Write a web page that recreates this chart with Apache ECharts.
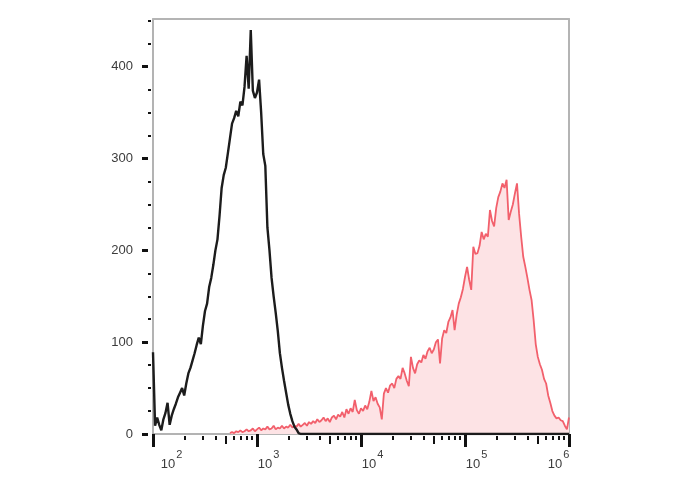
<!DOCTYPE html>
<html><head><meta charset="utf-8">
<script src="https://cdn.jsdelivr.net/npm/echarts@6/dist/echarts.min.js"></script>
<style>html,body{margin:0;padding:0;background:#fff}#c{width:688px;height:490px}</style>
</head><body><div id="c"></div>
<script>
// channel bins on a log10 scale: bin i sits at log10 = binStart + i*binStep
const binStart = 2.0;
const binStep = 0.02;

// unstained / control (black outline)
const blackCounts = [
  89,9,18,10,4,16,23,34,10,20,
  27,33,40,45,50,42,55,66,72,80,
  88,97,105,98,118,134,142,160,170,184,
  200,212,238,268,282,290,306,322,338,344,
  352,346,362,358,378,412,376,440,374,366,
  372,386,350,305,292,225,200,170,150,132,
  112,88,72,58,45,32,22,14,8,5,
  1,
  0,0,0,0,0,0,0,0,0,0, 0,0,0,0,0,0,0,0,0,0,
  0,0,0,0,0,0,0,0,0,0, 0,0,0,0,0,0,0,0,0,0,
  0,0,0,0,0,0,0,0,0,0, 0,0,0,0,0,0,0,0,0,0,
  0,0,0,0,0,0,0,0,0,0, 0,0,0,0,0,0,0,0,0,0,
  0,0,0,0,0,0,0,0,0,0, 0,0,0,0,0,0,0,0,0,0,
  0,0,0,0,0,0,0,0,0,0, 0,0,0,0,0,0,0,0,0,0,
  0,0,0,0,0,0,0,0,0,0
];

// stained sample (red, filled); null = no events drawn in that bin
const redCounts = [
  null,null,null,null,null,null,null,null,null,null,
  null,null,null,null,null,null,null,null,null,null,
  null,null,null,null,null,null,null,null,null,null,
  null,null,null,null,null,null,null,
  1,2,1,3,2,4,2,3,5,3,
  4,6,3,5,7,4,6,5,8,5,
  6,9,5,7,6,9,6,8,7,10,
  7,9,8,11,8,10,12,9,13,11,
  14,12,16,13,15,18,14,17,13,18,
  20,16,21,19,24,18,27,22,28,24,
  37,26,22,28,25,31,27,35,47,36,
  40,33,29,16,44,50,45,53,55,50,
  60,63,60,72,66,58,52,84,72,66,
  76,80,78,86,82,90,94,88,92,100,
  103,77,104,113,110,122,127,135,113,130,
  142,149,158,171,182,168,157,204,196,197,
  205,220,212,218,215,244,232,226,246,258,
  264,273,268,277,233,242,250,262,273,240,
  215,193,182,170,157,146,124,98,84,76,
  70,60,55,42,34,25,20,17,18,15,
  14,9,5,18
];

const xDecades = [2, 3, 4, 5, 6];
const xMinorMultipliers = [2, 3, 4, 6, 7, 8, 9];
const xMidMultiplier = 5;
const yMajorTicks = [0, 100, 200, 300, 400];
const yMinorTicks = [25, 50, 75, 125, 150, 175, 225, 250, 275, 325, 350, 375, 425, 450];
const yMax = 452;

const toPairs = arr => arr.map((v, i) => [binStart + i * binStep, v]);
const minorX = [], midX = [];
xDecades.slice(0, -1).forEach(d => {
  xMinorMultipliers.forEach(k => minorX.push(d + Math.log10(k)));
  midX.push(d + Math.log10(xMidMultiplier));
});

const chart = echarts.init(document.getElementById('c'), null, {renderer: 'canvas'});
const labelColor = '#3c3c3c';
const frameColor = '#b4b4b4';
const axisGray = '#9a9a9a';
const fam = 'Liberation Sans, Arial, sans-serif';

const baseX = {type: 'value', min: 2, max: 6, splitLine: {show: false}};
const baseY = {type: 'value', min: 0, max: yMax, splitLine: {show: false}};

chart.setOption({
  animation: false,
  backgroundColor: '#fff',
  grid: {left: 153, right: 119, top: 19, bottom: 56, containLabel: false},
  xAxis: [
    Object.assign({}, baseX, {
      position: 'bottom',
      axisLine: {show: true, onZero: false, lineStyle: {color: axisGray, width: 1.5}},
      axisTick: {show: true, customValues: xDecades, length: 13, lineStyle: {color: '#111', width: 3}},
      axisLabel: {
        show: true, customValues: xDecades, margin: 15, align: 'center',
        color: labelColor, fontFamily: fam,
        formatter: v => {
          const n = Math.round(v);
          if (n === 2) return '{b2|10}{s|' + n + '}';
          if (n === 6) return '{b|10}{s6|' + n + '}';
          return '{bm|10}{s|' + n + '}';
        },
        rich: {
          b2: {fontSize: 13, fontFamily: fam, color: labelColor, padding: [0, 0, 0, 37], lineHeight: 22, verticalAlign: 'bottom'},
          bm: {fontSize: 13, fontFamily: fam, color: labelColor, padding: [0, 0, 0, 23], lineHeight: 22, verticalAlign: 'bottom'},
          b: {fontSize: 13, fontFamily: fam, color: labelColor, lineHeight: 22, verticalAlign: 'bottom'},
          s: {fontSize: 11, fontFamily: fam, color: labelColor, lineHeight: 11, verticalAlign: 'top', padding: [0, 0, 0, 1]},
          s6: {fontSize: 11, fontFamily: fam, color: labelColor, lineHeight: 11, verticalAlign: 'top', padding: [0, 21, 0, 1]}
        }
      }
    }),
    Object.assign({}, baseX, {
      position: 'bottom', offset: 2,
      axisLine: {show: false, onZero: false},
      axisTick: {show: true, customValues: minorX, length: 4, lineStyle: {color: '#111', width: 2}},
      axisLabel: {show: false}
    }),
    Object.assign({}, baseX, {
      position: 'bottom', offset: 2,
      axisLine: {show: false, onZero: false},
      axisTick: {show: true, customValues: midX, length: 8, lineStyle: {color: '#111', width: 2}},
      axisLabel: {show: false}
    }),
    Object.assign({}, baseX, {
      position: 'top',
      axisLine: {show: true, onZero: false, lineStyle: {color: frameColor, width: 2}},
      axisTick: {show: false}, axisLabel: {show: false}
    })
  ],
  yAxis: [
    Object.assign({}, baseY, {
      position: 'left',
      axisLine: {show: true, onZero: false, lineStyle: {color: axisGray, width: 1.5}},
      axisTick: {show: false}, axisLabel: {show: false}
    }),
    Object.assign({}, baseY, {
      position: 'left', offset: 5,
      axisLine: {show: false, onZero: false},
      axisTick: {show: true, customValues: yMajorTicks, length: 6, lineStyle: {color: '#111', width: 3}},
      axisLabel: {show: true, customValues: yMajorTicks, margin: 15, color: labelColor, fontSize: 13,
                  fontFamily: fam}
    }),
    Object.assign({}, baseY, {
      position: 'left', offset: 2,
      axisLine: {show: false, onZero: false},
      axisTick: {show: true, customValues: yMinorTicks, length: 3, lineStyle: {color: '#111', width: 2}},
      axisLabel: {show: false}
    }),
    Object.assign({}, baseY, {
      position: 'right',
      axisLine: {show: true, onZero: false, lineStyle: {color: frameColor, width: 2}},
      axisTick: {show: false}, axisLabel: {show: false}
    })
  ],
  series: [
    {
      name: 'stained', type: 'line', xAxisIndex: 0, yAxisIndex: 0,
      data: toPairs(redCounts), showSymbol: false, symbol: 'none', connectNulls: false,
      lineStyle: {color: '#f2606c', width: 1.8},
      areaStyle: {color: '#fde3e5', opacity: 1, origin: 'start'},
      z: 2
    },
    {
      name: 'control', type: 'line', xAxisIndex: 0, yAxisIndex: 0,
      data: toPairs(blackCounts), showSymbol: false, symbol: 'none',
      lineStyle: {color: '#1c1c1c', width: 2.4},
      z: 3
    }
  ]
});
</script>
</body></html>
